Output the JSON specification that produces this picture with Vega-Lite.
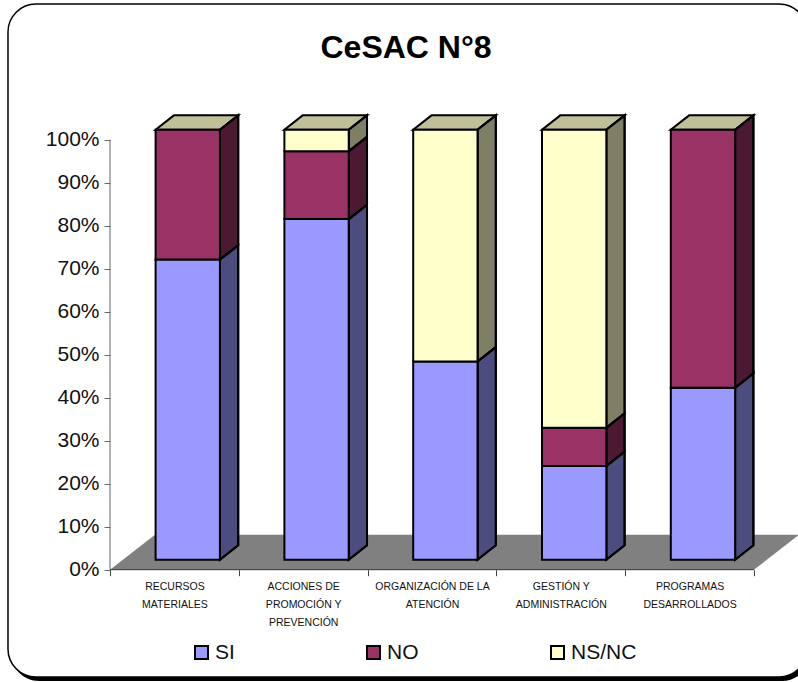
{
"$schema":"https://vega.github.io/schema/vega-lite/v6.json",
"width":798,"height":682,"padding":0,"autosize":"none","background":"white",
"title":{"text":"CeSAC N°8","font":"Liberation Sans","fontSize":32,"fontWeight":"bold","color":"black","anchor":"middle","orient":"top","offset":-65,"dx":7},
"config":{"view":{"stroke":null},"font":"Liberation Sans"},
"datasets":{
"barras":[
{"categoria":"RECURSOS MATERIALES","idx":0,"serie":"SI","orden":0,"valor":69.8},
{"categoria":"RECURSOS MATERIALES","idx":0,"serie":"NO","orden":1,"valor":30.2},
{"categoria":"ACCIONES DE PROMOCIÓN Y PREVENCIÓN","idx":1,"serie":"SI","orden":0,"valor":79.2},
{"categoria":"ACCIONES DE PROMOCIÓN Y PREVENCIÓN","idx":1,"serie":"NO","orden":1,"valor":15.8},
{"categoria":"ACCIONES DE PROMOCIÓN Y PREVENCIÓN","idx":1,"serie":"NS/NC","orden":2,"valor":5},
{"categoria":"ORGANIZACIÓN DE LA ATENCIÓN","idx":2,"serie":"SI","orden":0,"valor":46.1},
{"categoria":"ORGANIZACIÓN DE LA ATENCIÓN","idx":2,"serie":"NS/NC","orden":2,"valor":53.9},
{"categoria":"GESTIÓN Y ADMINISTRACIÓN","idx":3,"serie":"SI","orden":0,"valor":21.8},
{"categoria":"GESTIÓN Y ADMINISTRACIÓN","idx":3,"serie":"NO","orden":1,"valor":8.9},
{"categoria":"GESTIÓN Y ADMINISTRACIÓN","idx":3,"serie":"NS/NC","orden":2,"valor":69.3},
{"categoria":"PROGRAMAS DESARROLLADOS","idx":4,"serie":"SI","orden":0,"valor":40},
{"categoria":"PROGRAMAS DESARROLLADOS","idx":4,"serie":"NO","orden":1,"valor":60}
],
"categorias":[{"idx":0},{"idx":1},{"idx":2},{"idx":3},{"idx":4}],
"piso":[
{"px":0,"lo":0,"hi":0},
{"px":0.3494,"lo":0,"hi":8.14},
{"px":5,"lo":0,"hi":8.14},
{"px":5.3494,"lo":8.14,"hi":8.14}
]
},
"layer":[
{"data":{"values":[{}]},"mark":{"type":"rect","fill":"black","cornerRadius":28},
 "encoding":{
  "x":{"datum":-0.769,"type":"quantitative","scale":{"domain":[-0.85404,5.34161],"nice":false,"zero":false},
   "axis":{"values":[0,1,2,3,4,5],"offset":-112.3,"domain":false,"grid":false,"title":null,"zindex":1,"tickColor":"#444","tickSize":6,"tickWidth":1,"labelExpr":"datum.value<5 ? [['RECURSOS','MATERIALES'],['ACCIONES DE','PROMOCIÓN Y','PREVENCIÓN'],['ORGANIZACIÓN DE LA','ATENCIÓN'],['GESTIÓN Y','ADMINISTRACIÓN'],['PROGRAMAS','DESARROLLADOS']][datum.value] : ''","labelOffset":64.4,"labelFontSize":10.5,"labelColor":"#111","labelLineHeight":18,"labelBaseline":"top","labelAlign":"center","labelPadding":6,"labelOverlap":false,"labelFlush":false,"labelBound":false}},
  "x2":{"datum":5.435},
  "y":{"datum":130.63,"type":"quantitative","scale":{"domain":[-26.116,132.488],"nice":false,"zero":false},
   "axis":{"values":[0,10,20,30,40,50,60,70,80,90,100],"offset":-110,"domain":false,"grid":false,"title":null,"zindex":1,"tickColor":"#666","tickSize":6,"tickWidth":1,"labelExpr":"datum.value+'%'","labelFontSize":21,"labelColor":"#111","labelPadding":5,"labelOverlap":false,"labelFlush":false,"labelBound":false}},
  "y2":{"datum":-25.88}
 }},
{"data":{"values":[{}]},"mark":{"type":"rect","fill":"white","stroke":"black","strokeWidth":1.5,"cornerRadius":28},
 "encoding":{"x":{"datum":-0.792,"type":"quantitative"},"x2":{"datum":5.412},"y":{"datum":131.56,"type":"quantitative"},"y2":{"datum":-24.95}}},
{"data":{"name":"piso"},"mark":{"type":"area","fill":"#808080","stroke":null},
 "encoding":{"x":{"field":"px","type":"quantitative"},"y":{"field":"lo","type":"quantitative"},"y2":{"field":"hi"}}},
{"data":{"values":[{}]},"mark":{"type":"rule","color":"#666","strokeWidth":1},
 "encoding":{"x":{"datum":0,"type":"quantitative"},"y":{"datum":0,"type":"quantitative"},"y2":{"datum":100}}},
{"data":{"values":[{}]},"mark":{"type":"rule","color":"#333","strokeWidth":1},
 "encoding":{"x":{"datum":0,"type":"quantitative"},"x2":{"datum":5},"y":{"datum":0,"type":"quantitative"}}},
{"data":{"name":"categorias"},
 "transform":[
  {"calculate":"[0,0.1421,0.5,0.6421]","as":"t"},{"flatten":["t"]},
  {"calculate":"datum.idx+0.354+datum.t","as":"sx"},
  {"calculate":"102.33+max(0,datum.t-0.5)/0.1421*3.33","as":"lo"},
  {"calculate":"102.33+min(datum.t,0.1421)/0.1421*3.33","as":"hi"}],
 "mark":{"type":"area","fill":"#BFBF99","stroke":"black","strokeWidth":2},
 "encoding":{"x":{"field":"sx","type":"quantitative"},"y":{"field":"lo","type":"quantitative"},"y2":{"field":"hi"},"detail":{"field":"idx"}}},
{"data":{"name":"barras"},
 "transform":[
  {"stack":"valor","groupby":["idx"],"sort":[{"field":"orden"}],"as":["v0","v1"]},
  {"calculate":"[0,1]","as":"t"},{"flatten":["t"]},
  {"calculate":"datum.idx+0.8534+datum.t*0.1421","as":"sx"},
  {"calculate":"datum.v0+2.33+datum.t*3.33","as":"lo"},
  {"calculate":"datum.v1+2.33+datum.t*3.33","as":"hi"}],
 "mark":{"type":"area","stroke":"black","strokeWidth":2},
 "encoding":{"x":{"field":"sx","type":"quantitative"},"y":{"field":"lo","type":"quantitative"},"y2":{"field":"hi"},
  "color":{"field":"serie","type":"nominal","scale":{"domain":["SI","NO","NS/NC"],"range":["#9999FF","#993366","#FFFFCC"]},
   "legend":{"title":null,"orient":"none","legendX":191,"legendY":642,"direction":"horizontal","symbolType":"square","symbolSize":169,"symbolStrokeColor":"black","symbolStrokeWidth":2,"symbolOpacity":1,"labelFontSize":21,"labelColor":"#111","labelOffset":3,"columnPadding":128,"columns":3}},
  "detail":{"field":"idx"}}},
{"data":{"name":"barras"},
 "transform":[
  {"stack":"valor","groupby":["idx"],"sort":[{"field":"orden"}],"as":["v0","v1"]},
  {"calculate":"[0,1]","as":"t"},{"flatten":["t"]},
  {"calculate":"datum.idx+0.8534+datum.t*0.1421","as":"sx"},
  {"calculate":"datum.v0+2.33+datum.t*3.33","as":"lo"},
  {"calculate":"datum.v1+2.33+datum.t*3.33","as":"hi"},
  {"calculate":"datum.idx+'-'+datum.serie","as":"cara"}],
 "mark":{"type":"area","fill":"black","fillOpacity":0.5,"stroke":"black","strokeWidth":2},
 "encoding":{"x":{"field":"sx","type":"quantitative"},"y":{"field":"lo","type":"quantitative"},"y2":{"field":"hi"},"detail":{"field":"cara"}}},
{"data":{"name":"barras"},
 "transform":[
  {"stack":"valor","groupby":["idx"],"sort":[{"field":"orden"}],"as":["v0","v1"]},
  {"calculate":"datum.idx+0.354","as":"a"},{"calculate":"datum.idx+0.8534","as":"b"},
  {"calculate":"datum.v0+2.33","as":"lo"},{"calculate":"datum.v1+2.33","as":"hi"}],
 "mark":{"type":"rect","stroke":"black","strokeWidth":2},
 "encoding":{"x":{"field":"a","type":"quantitative"},"x2":{"field":"b"},"y":{"field":"lo","type":"quantitative"},"y2":{"field":"hi"},
  "color":{"field":"serie","type":"nominal","scale":{"domain":["SI","NO","NS/NC"],"range":["#9999FF","#993366","#FFFFCC"]},"legend":null}}}
]
}
